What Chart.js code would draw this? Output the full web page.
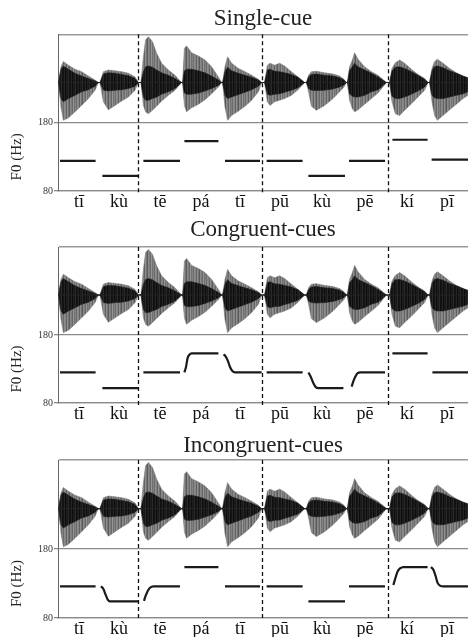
<!DOCTYPE html>
<html><head><meta charset="utf-8">
<script src="https://cdn.jsdelivr.net/npm/chart.js@4.4.1/dist/chart.umd.min.js"></script>
<style>
html,body{margin:0;padding:0;background:#fff;overflow:hidden;width:468px;height:637px}
.p{position:absolute;left:0;width:468px}
canvas{display:block}
</style></head><body>
<div class="p" id="w0"><canvas id="c0"></canvas></div>
<div class="p" id="w1"><canvas id="c1"></canvas></div>
<div class="p" id="w2"><canvas id="c2"></canvas></div>
<script>
// ---------- data ----------
const syllables = ['tī','kù','tē','pá','tī','pū','kù','pē','kí','pī'];
const labelTimes = [105, 305, 510, 715, 910, 1110, 1320, 1535, 1745, 1945];   // ms
const boundaryTimes = [402, 1022, 1650];                                       // word boundaries (ms)
const f0Ticks = [80, 180];
const panelTitles = ['Single-cue', 'Congruent-cues', 'Incongruent-cues'];

// waveform envelope (same recording in all panels), time in ms
const waveTime = [
  2,15,27,52,85,118,152,185,202,
  210,227,252,285,318,352,385,402,
  415,427,438,452,472,493,518,552,585,618,
  623,632,643,668,702,735,768,802,818,
  823,835,848,868,902,935,968,1002,1018,
  1033,1047,1060,1083,1108,1133,1167,1200,1233,
  1242,1253,1267,1292,1333,1375,1408,1430,1442,
  1447,1458,1472,1483,1500,1533,1567,1600,1642,
  1658,1670,1687,1708,1733,1767,1800,1833,1850,
  1858,1870,1883,1897,1925,1958,1992,2025,2050];
const waveLightUpper = [
  0,0.39,0.52,0.43,0.33,0.27,0.16,0.06,0,
  0,0.27,0.31,0.29,0.27,0.23,0.14,0,
  0,0.64,1.06,1.14,1.02,0.73,0.48,0.31,0.18,0,
  0,0.85,0.91,0.74,0.66,0.56,0.39,0.14,0,
  0,0.39,0.64,0.48,0.35,0.27,0.18,0.08,0,
  0,0.43,0.48,0.43,0.48,0.41,0.27,0.14,0,
  0,0.18,0.27,0.28,0.24,0.21,0.16,0.08,0,
  0,0.39,0.56,0.74,0.58,0.39,0.27,0.18,0,
  0,0.35,0.49,0.56,0.48,0.33,0.2,0.1,0,
  0,0.35,0.52,0.58,0.48,0.35,0.24,0.16,0.1];
const waveDarkUpper = [
  0,0.33,0.41,0.33,0.23,0.16,0.1,0.04,0,
  0,0.21,0.24,0.23,0.2,0.17,0.1,0,
  0,0.27,0.39,0.41,0.38,0.31,0.24,0.18,0.1,0,
  0,0.29,0.33,0.33,0.29,0.24,0.16,0.06,0,
  0,0.27,0.38,0.29,0.23,0.18,0.13,0.06,0,
  0,0.31,0.33,0.28,0.27,0.24,0.2,0.13,0,
  0,0.14,0.2,0.21,0.18,0.16,0.12,0.06,0,
  0,0.31,0.39,0.48,0.39,0.31,0.23,0.14,0,
  0,0.29,0.38,0.39,0.35,0.27,0.18,0.08,0,
  0,0.29,0.39,0.41,0.37,0.29,0.23,0.16,0.12];
const waveDarkLower = [
  0,-0.4,-0.48,-0.4,-0.32,-0.23,-0.18,-0.09,0,
  0,-0.19,-0.21,-0.19,-0.18,-0.15,-0.09,0,
  0,-0.36,-0.44,-0.44,-0.4,-0.36,-0.29,-0.23,-0.15,0,
  0,-0.26,-0.29,-0.29,-0.26,-0.21,-0.15,-0.07,0,
  0,-0.32,-0.4,-0.36,-0.3,-0.24,-0.18,-0.09,0,
  0,-0.29,-0.32,-0.29,-0.28,-0.24,-0.19,-0.13,0,
  0,-0.15,-0.19,-0.2,-0.19,-0.16,-0.11,-0.06,0,
  0,-0.28,-0.34,-0.36,-0.36,-0.32,-0.23,-0.18,0,
  0,-0.34,-0.4,-0.4,-0.36,-0.29,-0.21,-0.11,0,
  0,-0.32,-0.38,-0.4,-0.4,-0.36,-0.32,-0.28,-0.23];
const waveLightLower = [
  0,-0.61,-0.94,-0.88,-0.73,-0.57,-0.4,-0.19,0,
  0,-0.48,-0.68,-0.57,-0.46,-0.36,-0.19,0,
  0,-0.57,-0.73,-0.78,-0.69,-0.59,-0.46,-0.32,-0.19,0,
  0,-0.57,-0.73,-0.63,-0.54,-0.43,-0.28,-0.11,0,
  0,-0.61,-0.94,-0.82,-0.71,-0.59,-0.44,-0.23,0,
  0,-0.48,-0.57,-0.48,-0.44,-0.4,-0.32,-0.18,0,
  0,-0.23,-0.59,-0.69,-0.57,-0.4,-0.23,-0.11,0,
  0,-0.44,-0.65,-0.73,-0.68,-0.54,-0.4,-0.26,0,
  0,-0.48,-0.78,-0.82,-0.69,-0.53,-0.36,-0.19,0,
  0,-0.48,-0.82,-0.94,-0.82,-0.68,-0.54,-0.4,-0.32];

// F0 tracks: [time ms, Hz] per syllable
const singleF0 = [
  [[10,124],[188,124]],
  [[222,102],[402,102]],
  [[427,124],[610,124]],
  [[632,153],[802,153]],
  [[835,124],[1010,124]],
  [[1043,124],[1223,124]],
  [[1252,102],[1435,102]],
  [[1455,124],[1635,124]],
  [[1672,155],[1848,155]],
  [[1868,126],[2050,126]]];
const congruentF0 = [
  [[10,125],[188,125]],
  [[222,102],[402,102]],
  [[427,125],[610,125]],
  [[632,125],[640,133],[648,146],[657,151],[668,153],[802,153]],
  [[827,151],[835,150],[848,143],[860,133],[872,127],[885,125],[1018,125]],
  [[1043,125],[1223,125]],
  [[1252,125],[1263,119],[1277,109],[1290,103],[1302,102],[1427,102]],
  [[1468,104],[1477,112],[1487,119],[1498,124],[1513,125],[1635,125]],
  [[1672,153],[1848,153]],
  [[1872,125],[2050,125]]];
const incongruentF0 = [
  [[10,126],[188,126]],
  [[215,126],[227,122],[238,114],[248,107],[260,104],[402,104]],
  [[430,105],[438,112],[448,119],[460,124],[477,126],[610,126]],
  [[632,154],[802,154]],
  [[835,126],[1010,126]],
  [[1043,126],[1223,126]],
  [[1252,104],[1435,104]],
  [[1455,126],[1635,126]],
  [[1677,128],[1685,136],[1697,147],[1710,152],[1727,154],[1848,154]],
  [[1865,154],[1877,150],[1888,141],[1898,131],[1910,127],[1927,126],[2050,126]]];

// ---------- drawing ----------
const SERIF = '"Liberation Serif", "Times New Roman", "DejaVu Serif", serif';

function stripes(colors){
  const c = document.createElement('canvas');
  c.width = colors.length; c.height = 1;
  const g = c.getContext('2d');
  colors.forEach((col,i)=>{ g.fillStyle = col; g.fillRect(i,0,1,1); });
  return g.createPattern(c,'repeat');
}
const lightFill = stripes(['#848484','#626262','#8f8f8f','#747474','#5a5a5a','#8a8a8a','#7d7d7d','#686868','#959595','#717171','#828282','#6c6c6c','#8c8c8c']);
const darkFill = stripes(['#141414','#242424','#0c0c0c','#1e1e1e','#181818','#2a2a2a','#101010']);

function pts(values){ return waveTime.map((t,i)=>({x:t, y:values[i]})); }
function f0Points(segs){
  const out = [];
  segs.forEach((s,k)=>{
    if (k>0) out.push({x:(segs[k-1][segs[k-1].length-1][0]+s[0][0])/2, y:null});
    s.forEach(p=>out.push({x:p[0], y:p[1]}));
  });
  return out;
}

const dashPlugin = {
  id:'dash',
  afterDatasetsDraw(chart){
    const {ctx, chartArea, scales} = chart;
    ctx.save();
    ctx.setLineDash([4,3]);
    ctx.lineWidth = 1.3;
    ctx.strokeStyle = '#111';
    boundaryTimes.forEach(b=>{
      const px = Math.round(scales.x.getPixelForValue(b)) + 0.5;
      ctx.beginPath(); ctx.moveTo(px, chartArea.top); ctx.lineTo(px, chartArea.bottom + 3); ctx.stroke();
    });
    ctx.restore();
  }
};

const panels = [
  {f0: singleF0,      top: 0,   height: 213, padTop: 5.1, padBottom: 1.6},
  {f0: congruentF0,   top: 211, height: 214, padTop: 4.7, padBottom: 3.7},
  {f0: incongruentF0, top: 427, height: 213, padTop: 5.4, padBottom: 0}
];

panels.forEach((p, k)=>{
  const wrap = document.getElementById('w'+k);
  wrap.style.top = p.top + 'px';
  const cv = document.getElementById('c'+k);
  cv.width = 468; cv.height = p.height;
  new Chart(cv, {
    type: 'line',
    data: { datasets: [
      {data: [{x:0,y:0},{x:2050,y:0}], yAxisID:'yWave', borderColor:'#222', borderWidth:1.2, pointRadius:0, fill:false},
      {data: pts(waveDarkUpper), yAxisID:'yWave', borderColor:'#1c1c1c', borderWidth:0.6, pointRadius:0, fill:'+1', backgroundColor: darkFill},
      {data: pts(waveDarkLower), yAxisID:'yWave', borderColor:'#1c1c1c', borderWidth:0.6, pointRadius:0, fill:false},
      {data: pts(waveLightUpper), yAxisID:'yWave', borderColor:'#7a7a7a', borderWidth:0.6, pointRadius:0, fill:'+1', backgroundColor: lightFill},
      {data: pts(waveLightLower), yAxisID:'yWave', borderColor:'#7a7a7a', borderWidth:0.6, pointRadius:0, fill:false},
      {data: f0Points(p.f0), yAxisID:'yF0', borderColor:'#1a1a1a', borderWidth:2.2, pointRadius:0, fill:false, spanGaps:false, cubicInterpolationMode:'monotone'}
    ]},
    options: {
      responsive: false, animation: false, devicePixelRatio: 1,
      layout: {padding: 0},
      plugins: {
        legend: {display:false}, tooltip: {enabled:false},
        title: {display:true, fullSize:false, text: panelTitles[k], color:'#222',
                font:{family:SERIF, size:23, weight:'normal'},
                padding:{top:p.padTop, bottom:p.padBottom}}
      },
      scales: {
        x: {type:'linear', min:0, max:2050,
            afterBuildTicks: s=>{ s.ticks = labelTimes.map(v=>({value:v})); },
            ticks:{callback:(v,i)=>syllables[i], color:'#111', font:{family:SERIF, size:18},
                   padding:0, maxRotation:0, autoSkip:false},
            grid:{display:false, drawTicks:false, tickLength:0},
            border:{color:'#8a8a8a', width:1.3},
            afterFit: s=>{ s.height = 22; }},
        yF0: {type:'linear', position:'left', stack:'panel', stackWeight:68, min:80, max:180,
            afterBuildTicks: s=>{ s.ticks = f0Ticks.map(v=>({value:v})); },
            ticks:{color:'#333', font:{family:SERIF, size:10}, padding:1},
            grid:{color:'#8a8a8a', tickLength:4, lineWidth:1.3},
            border:{color:'#666', width:1},
            title:{display:true, text:'F0 (Hz)', color:'#222', font:{family:SERIF, size:15}, padding:{top:8, bottom:0}},
            afterFit: s=>{ s.width = 58; }},
        yWave: {type:'linear', position:'left', stack:'panel', stackWeight:88, min:-1, max:1.2,
            afterBuildTicks: s=>{ s.ticks = [{value:1.2}]; },
            ticks:{display:false},
            grid:{color:'#9a9a9a', drawTicks:false, lineWidth:1.5},
            border:{color:'#666', width:1},
            afterFit: s=>{ s.width = 58; }}
      }
    },
    plugins: [dashPlugin]
  });
});
</script>
</body></html>
